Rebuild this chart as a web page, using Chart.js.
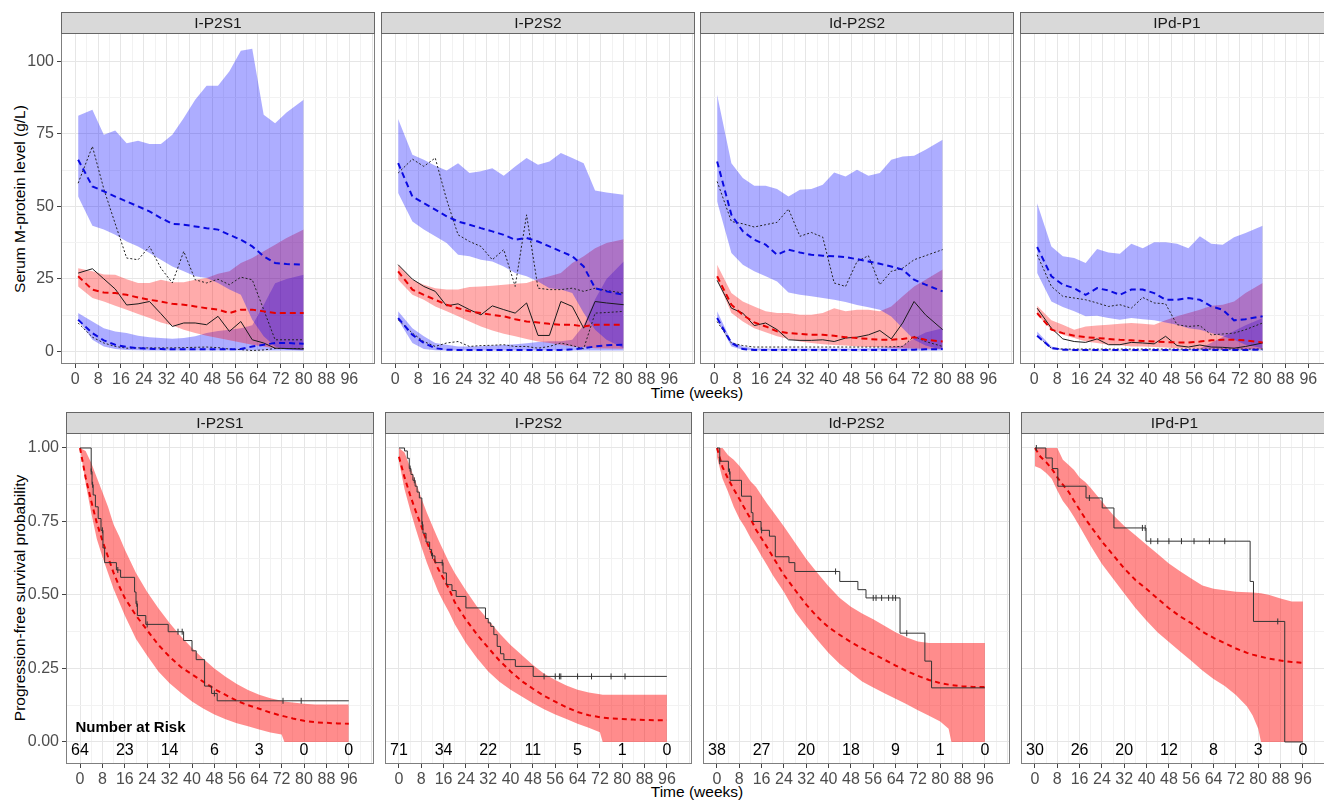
<!DOCTYPE html>
<html>
<head>
<meta charset="utf-8">
<script src="https://cdn.jsdelivr.net/npm/chart.js@4.4.1/dist/chart.umd.min.js"></script>
<style>
    html, body { margin: 0; padding: 0; background: #fff; overflow: hidden; }
    #wrap { position: relative; width: 1324px; height: 800px; overflow: hidden; font-family: "Liberation Sans", Arial, sans-serif; }
    #wrap canvas { position: absolute; }
    .title { position: absolute; font-size: 15.5px; color: #000; white-space: nowrap; }
    .ytitle { transform: translate(-50%, -50%) rotate(-90deg); }
    .xtitle { transform: translate(-50%, -50%); }
</style>
</head>
<body>
<div id="wrap">
    <div class="title ytitle" style="left:20px; top:199px">Serum M-protein level (g/L)</div>
    <div class="title xtitle" style="left:697px; top:393px">Time (weeks)</div>
    <div class="title ytitle" style="left:20px; top:598px">Progression-free survival probability</div>
    <div class="title xtitle" style="left:697px; top:792px">Time (weeks)</div>
</div>
<script>
// Panels (facets)
const panelNames = ['I-P2S1', 'I-P2S2', 'Id-P2S2', 'IPd-P1'];

// ---- Top row: serum M-protein, one array per panel ----
const weeks = [1, 6, 10, 14, 18, 22, 26, 30, 34, 38, 42, 46, 50, 54, 58, 62, 66, 70, 74, 80];

// high group (blue, top)
const hiUpper = [
    [81.3, 83.3, 74.7, 76.2, 71.8, 72.6, 71.5, 71.5, 74.7, 80.5, 86.8, 91.6, 91.6, 96.6, 103.7, 104.4, 81.6, 78.7, 82.4, 86.8],
    [80.1, 67.8, 66.1, 64, 62.4, 64.9, 61.5, 62.1, 63.2, 60.6, 63.8, 66.7, 64.4, 65.5, 68.4, 66.7, 64.9, 55.5, 54.8, 54],
    [88.5, 64.9, 59.8, 57.1, 57.1, 56, 53.4, 55.7, 56, 57.5, 61.7, 60.3, 62.6, 60.6, 61.5, 66.1, 67.2, 67.5, 69.5, 73],
    [51.1, 36.2, 32.8, 32.2, 30.5, 35.3, 34.1, 33.7, 37.1, 35.6, 37.6, 37.6, 37.1, 35.6, 39.7, 37.1, 36.8, 39.4, 40.8, 43.3]
];
const hiLower = [
    [53.4, 43.3, 42, 40.2, 37.9, 36.2, 33.9, 31.6, 29.3, 27.6, 25.9, 25.3, 23.6, 21.3, 19.5, 10.9, 5.2, 1.7, 0.6, 0.3],
    [54.6, 44.8, 42, 39.7, 37.4, 33.3, 32.8, 31.6, 31, 29.3, 27, 25.9, 24.1, 21.8, 21.3, 20.1, 13.2, 7.5, 4, 1.1],
    [51.7, 33.9, 29.9, 27.6, 25.9, 24.1, 20.3, 19.5, 19, 18.4, 17.8, 17, 16, 15.2, 14.4, 12, 8, 4, 2, 0.5],
    [27, 17.2, 15.3, 13.8, 12.1, 12.3, 11.5, 10.9, 11.5, 11.1, 10.7, 10, 9.2, 8, 7.5, 6.3, 5.2, 4, 2.3, 1.1]
];
const hiMedian = [
    [66.1, 56.9, 55.2, 53.4, 51.7, 50, 48.3, 46, 44, 43.7, 43.1, 42.5, 42, 40.2, 38.5, 36.2, 32.8, 30.5, 30.1, 29.9],
    [64.9, 53.4, 51.1, 48.9, 46.6, 44.8, 43.7, 42.5, 41.4, 40.2, 38.5, 39.1, 37.9, 36.2, 34.5, 32.8, 29.3, 21.8, 20.7, 19.5],
    [65.5, 47.1, 41.4, 38.5, 36.8, 33.3, 35.1, 34.1, 33.3, 33, 32.8, 32.5, 31.8, 31, 30.2, 29.3, 28.2, 24.7, 23, 20.7],
    [36, 25.9, 23, 21.8, 19.5, 21.8, 21, 19.5, 21.3, 21.3, 20.1, 17.8, 17.8, 18.4, 17.8, 15.5, 14.4, 10.7, 11.1, 12.1]
];
const hiObserved = [
    [58, 70.7, 56, 44, 32.2, 31.6, 36.2, 28.7, 23.6, 34.5, 24.7, 23.6, 24.9, 23, 25.6, 24.7, 14.4, 4, 4, 4],
    [61.5, 66.3, 63.8, 66.7, 52.3, 40.2, 37.9, 36.2, 31.6, 35.1, 22.4, 47.1, 21.8, 21.3, 21.3, 21.8, 20.7, 21.8, 21, 20.1],
    [58.6, 44.8, 44, 42.9, 43.7, 44.5, 49.1, 39.7, 41, 39.4, 23.6, 22.4, 31, 33, 23, 27.6, 28.7, 31.6, 33, 35.1],
    [33.3, 22.4, 19, 18.4, 17.8, 16.7, 15.5, 16.1, 14.9, 18.6, 16.7, 16.4, 9.2, 8.6, 8.9, 5.7, 6, 6.3, 7.5, 9.8]
];

// middle group (red)
const midUpper = [
    [28.7, 27.6, 26.5, 26.4, 24.9, 23.6, 23.6, 24.7, 23.8, 23.8, 24.7, 25.3, 26.8, 27.6, 30.5, 32.2, 34.5, 36.8, 39.1, 42],
    [29.9, 24.7, 23, 21.8, 21.3, 21.3, 22.2, 22.4, 22.6, 23, 23.3, 23.6, 24.9, 25.9, 27, 30.5, 32.8, 35.6, 37.4, 38.7],
    [29.9, 20.1, 17.2, 15.5, 13.8, 13.2, 13.2, 12.6, 12.6, 13.2, 14.9, 13.8, 14.4, 14.4, 13.8, 15.5, 19, 22.4, 24.7, 28.2],
    [15.7, 10.7, 9.2, 7.5, 8.6, 8.9, 9.2, 9.5, 9.8, 9.5, 9.2, 10.7, 12.1, 13.2, 14.4, 15.7, 16.1, 17.2, 20.1, 23.6]
];
const midLower = [
    [22.4, 18.4, 17.2, 15.7, 14.4, 12.9, 11.5, 10, 8.9, 7.5, 6.3, 5.4, 4.6, 3.8, 3.1, 2.3, 1.7, 1.1, 0.8, 0.6],
    [24.7, 19.5, 17.8, 15.5, 13.8, 12.1, 10.3, 8.6, 7.2, 6.1, 5.2, 4.3, 3.4, 2.9, 2.3, 1.7, 1.4, 1.1, 1, 0.9],
    [24.7, 13.2, 10.3, 8, 6.6, 5.2, 4.3, 3.4, 2.9, 2.5, 2.2, 2, 1.7, 1.5, 1.4, 1.2, 1.1, 1, 0.9, 0.8],
    [12.6, 7.5, 5.7, 4.6, 3.4, 2.9, 2.3, 2.1, 1.7, 1.7, 1.5, 1.3, 1.1, 1, 0.9, 0.9, 0.8, 0.8, 0.8, 0.8]
];
const midMedian = [
    [25.9, 21.3, 20.3, 20.1, 19.5, 18.6, 17.8, 17.2, 16.4, 16.1, 15.5, 14.9, 14.4, 13.2, 14.4, 14.4, 13.8, 13.2, 13.2, 13.2],
    [27.6, 21.3, 19.5, 17.8, 16.1, 14.9, 13.8, 13.2, 12.6, 12.1, 11.1, 10.3, 10, 9.5, 9.2, 9.2, 8.6, 9.2, 9.2, 9.2],
    [25.9, 16.1, 12.6, 10, 8.6, 6.9, 6.3, 6, 5.7, 5.7, 5.4, 4.9, 4.6, 4.3, 4, 4, 4.3, 4.9, 4, 3.4],
    [13.2, 7.5, 6.3, 5.4, 4.9, 4.6, 4.3, 4, 3.8, 3.6, 3.4, 3.2, 3.1, 3.1, 3.4, 3.8, 4, 4, 3.8, 3.1]
];
const midObserved = [
    [27, 28.5, 25, 21.5, 16, 16.4, 17.2, 13, 8.6, 9.8, 9.8, 9.2, 12.1, 6.9, 10.3, 4, 2.9, 1.1, 1, 0.8],
    [29.9, 24.9, 22.4, 20.7, 15.7, 16.4, 14.4, 12.6, 15.7, 14.4, 13.2, 16.7, 5.5, 5.5, 17.2, 15.5, 8, 17.2, 16.7, 16.1],
    [24.5, 14.9, 13.2, 8.9, 9.8, 7.5, 4, 3.8, 3.8, 4, 3.4, 4.6, 4.9, 5.7, 7.2, 4.3, 9.8, 17.2, 12.6, 7.5],
    [14.9, 8, 4.3, 3.4, 3.1, 4.3, 2.3, 2.3, 3.1, 2.9, 2.6, 5.2, 2, 1.5, 2.2, 1.5, 1.4, 1.1, 1.7, 2.9]
];

// low group (blue, bottom)
const loUpper = [
    [13.2, 10.3, 8, 6.9, 6.3, 5.4, 4.9, 4.6, 4.4, 4.6, 5.2, 6.3, 7, 7.5, 8, 9, 16, 23.5, 25, 26.4],
    [13.8, 8, 5.2, 2.9, 2.3, 1.7, 1.7, 1.8, 2, 2.2, 2.5, 2.8, 3.2, 3.5, 3.5, 4, 9, 18, 25, 31],
    [13.8, 3.4, 1.7, 1.1, 1, 1, 1, 1, 1, 1, 1, 1, 1, 1.1, 1.2, 1.5, 2, 4.5, 6.5, 8],
    [6.9, 1.7, 0.8, 0.7, 0.6, 0.6, 0.6, 0.6, 0.6, 0.6, 0.6, 0.6, 0.7, 0.8, 1, 3, 5, 7, 9, 11.5]
];
const loLower = [
    [10.9, 4, 1.7, 0.8, 0.5, 0.4, 0.3, 0.3, 0.3, 0.3, 0.3, 0.3, 0.3, 0.3, 0.3, 0.3, 0.3, 0.3, 0.3, 0.3],
    [10.9, 2.9, 0.8, 0.4, 0.3, 0.3, 0.3, 0.3, 0.3, 0.3, 0.3, 0.3, 0.3, 0.3, 0.3, 0.3, 0.3, 0.3, 0.3, 0.3],
    [10.9, 1.7, 0.6, 0.3, 0.3, 0.3, 0.3, 0.3, 0.3, 0.3, 0.3, 0.3, 0.3, 0.3, 0.3, 0.3, 0.3, 0.3, 0.3, 0.3],
    [5.2, 0.8, 0.4, 0.3, 0.3, 0.3, 0.3, 0.3, 0.3, 0.3, 0.3, 0.3, 0.3, 0.3, 0.3, 0.3, 0.3, 0.3, 0.3, 0.3]
];
const loMedian = [
    [10.9, 6.3, 3.8, 2.3, 1.5, 1.1, 0.9, 0.8, 0.7, 0.7, 0.7, 0.7, 0.7, 0.7, 0.8, 1.7, 2.3, 2.9, 2.9, 2.6],
    [11.5, 5.7, 2.9, 1.1, 0.6, 0.5, 0.5, 0.5, 0.5, 0.5, 0.5, 0.5, 0.5, 0.5, 0.5, 0.7, 1.1, 1.7, 2.1, 2.3],
    [11.5, 2.9, 0.8, 0.5, 0.5, 0.5, 0.5, 0.5, 0.5, 0.5, 0.5, 0.5, 0.5, 0.5, 0.5, 0.5, 0.5, 0.6, 0.7, 0.8],
    [5.4, 1.1, 0.6, 0.5, 0.5, 0.5, 0.5, 0.5, 0.5, 0.5, 0.5, 0.5, 0.5, 0.5, 0.5, 0.5, 0.5, 0.5, 0.5, 0.6]
];
const loObserved = [
    [9.8, 4.9, 2.9, 1.7, 1.1, 1.2, 1.2, 1.2, 1.2, 1.3, 1.4, 1.5, 1.3, 0.8, 0.6, 0.3, 0.5, 1, 1, 1],
    [10.9, 6.3, 3.4, 1.7, 2.9, 3.4, 1.7, 2, 2.1, 2.3, 1.7, 1.7, 1.1, 1.7, 2.9, 2, 0.9, 13.2, 13.4, 13.8],
    [10.3, 2.9, 2, 1.5, 1.5, 1.5, 1.5, 1.5, 1.5, 1.5, 1.5, 1.5, 1.5, 1.5, 1.5, 1.6, 1.7, 5.2, 3.4, 1.7],
    [5.2, 1.1, 0.8, 0.8, 0.8, 0.8, 0.8, 0.8, 0.8, 0.8, 0.8, 0.8, 0.8, 0.8, 0.8, 0.8, 0.8, 0.8, 0.8, 0.8]
];

// ---- Bottom row: progression-free survival ----
const survWeeks = [
    [0, 2, 4, 6, 8, 10, 12, 14, 16, 18, 20, 24, 28, 32, 36, 40, 44, 48, 52, 56, 60, 64, 68, 72, 73, 76, 80, 84, 88, 92, 96],
    [0, 2, 4, 6, 8, 10, 12, 14, 16, 18, 20, 24, 28, 32, 36, 40, 44, 48, 52, 56, 60, 64, 68, 72, 73, 76, 80, 84, 88, 92, 96],
    [0, 2, 4, 6, 8, 10, 12, 14, 16, 18, 20, 24, 28, 32, 36, 40, 44, 48, 52, 56, 60, 64, 68, 72, 76, 80, 83, 84, 88, 92, 96],
    [0, 2, 4, 6, 8, 10, 12, 14, 16, 18, 20, 24, 28, 32, 36, 40, 44, 48, 52, 56, 60, 64, 68, 72, 76, 78, 80, 81, 84, 88, 92, 96]
];
const survMedian = [
    [1, .90, .82, .745, .685, .63, .575, .53, .49, .46, .43, .38, .33, .29, .255, .23, .205, .18, .16, .14, .125, .113, .10, .089, .087, .08, .072, .067, .065, .063, .062],
    [.97, .90, .84, .785, .735, .68, .635, .59, .555, .52, .475, .416, .365, .32, .277, .24, .207, .181, .157, .137, .118, .102, .091, .084, .083, .08, .078, .076, .075, .074, .074],
    [1, .935, .895, .86, .827, .793, .76, .722, .692, .662, .63, .568, .517, .467, .425, .39, .364, .34, .318, .299, .28, .26, .241, .225, .211, .2, .195, .193, .189, .187, .187],
    [1, .97, .952, .93, .9, .875, .852, .82, .79, .76, .733, .682, .636, .59, .551, .52, .487, .455, .427, .404, .375, .354, .336, .318, .303, .297, .292, .29, .283, .277, .272, .269]
];
const survUpper = [
    [1, .99, .95, .90, .85, .80, .74, .70, .655, .615, .575, .51, .455, .405, .36, .32, .283, .25, .222, .197, .177, .161, .149, .14, .138, .134, .13, .127, .127, .127, .127],
    [1, .985, .935, .885, .83, .78, .735, .69, .65, .61, .575, .515, .46, .415, .37, .33, .296, .262, .232, .211, .192, .178, .168, .162, .161, .161, .161, .161, .161, .161, .161],
    [1, 1, .975, .96, .94, .915, .887, .867, .838, .81, .785, .733, .678, .622, .575, .53, .49, .46, .437, .417, .395, .373, .355, .342, .337, .337, .337, .337, .337, .337, .337],
    [1, 1, 1, 1, 1, .96, .943, .925, .9, .884, .864, .818, .772, .735, .703, .671, .639, .607, .581, .556, .532, .521, .516, .511, .509, .508, .507, .506, .5, .488, .478, .478]
];
const survLower = [
    [1, .88, .78, .69, .63, .575, .52, .475, .43, .39, .35, .293, .24, .2, .167, .138, .114, .093, .077, .064, .053, .042, .032, .025, 0, 0, 0, 0, 0, 0, 0],
    [.955, .86, .79, .725, .665, .61, .56, .513, .475, .44, .40, .337, .285, .24, .205, .178, .155, .132, .111, .093, .078, .062, .048, .033, 0, 0, 0, 0, 0, 0, 0],
    [.97, .895, .85, .80, .76, .73, .695, .665, .632, .6, .567, .51, .443, .393, .347, .303, .265, .235, .206, .185, .166, .147, .128, .108, .089, .07, .045, 0, 0, 0, 0],
    [.938, .93, .915, .895, .855, .82, .795, .765, .733, .70, .667, .605, .555, .505, .456, .412, .372, .34, .308, .276, .243, .214, .19, .16, .121, .09, .045, 0, 0, 0, 0, 0]
];

// Kaplan-Meier (observed) step times and survival
const kmTimes = [
    [0, 4, 4.3, 4.7, 5.5, 6.5, 7.5, 8.2, 8.8, 13, 14.5, 19.5, 20, 20.5, 23.5, 31.5, 37, 40, 41.5, 44.5, 47, 49, 96],
    [0, 2, 3, 3.7, 4.3, 5, 5.8, 6.5, 7.3, 8.2, 8.6, 9.7, 11, 11.7, 12.9, 15.8, 17, 19, 20.5, 24, 31, 32, 32.9, 34, 35.2, 36.4, 37.6, 41.7, 48.1, 96],
    [0, 1, 4.1, 4.7, 8.8, 12.3, 12.9, 15.8, 18.8, 20.9, 25.8, 27.9, 44, 50.5, 53.4, 65.6, 74.5, 76.9, 96],
    [0, 3.9, 6.2, 8.2, 18.3, 24.1, 28.3, 39.8, 77.1, 78.3, 89.5, 96]
];
const kmSurv = [
    [1, .92, .875, .84, .80, .76, .72, .66, .61, .585, .56, .51, .47, .43, .40, .375, .345, .31, .28, .19, .165, .14, .14],
    [1, .99, .965, .93, .91, .89, .87, .85, .83, .74, .71, .68, .655, .633, .61, .575, .535, .515, .495, .456, .42, .405, .393, .365, .325, .30, .28, .257, .223, .223],
    [1, .955, .92, .89, .836, .78, .75, .72, .70, .63, .61, .58, .546, .518, .49, .37, .275, .184, .184],
    [1, .966, .93, .87, .83, .796, .728, .683, .546, .41, 0, 0]
];
const censorTimes = [
    [4, 4.5, 8, 13.5, 20.3, 24, 35, 36.5, 48, 72.5, 79],
    [4, 5.5, 8.4, 12, 15.5, 52, 56, 57.5, 58, 64, 69, 76, 81],
    [1, 4.5, 16, 42.5, 56, 57, 59, 61.5, 63, 64, 68],
    [0.5, 19.5, 38.5, 39.5, 41.5, 44, 48, 52.5, 57, 62.5, 68, 87]
];

// Number at risk
const riskWeeks = [0, 16, 32, 48, 64, 80, 96];
const atRisk = [
    [64, 23, 14, 6, 3, 0, 0],
    [71, 34, 22, 11, 5, 1, 0],
    [38, 27, 20, 18, 9, 1, 0],
    [30, 26, 20, 12, 8, 3, 0]
];

// Axis breaks
const xGrid = [0, 4, 8, 12, 16, 20, 24, 28, 32, 36, 40, 44, 48, 52, 56, 60, 64, 68, 72, 76, 80, 84, 88, 92, 96, 100, 104];
const mproteinGrid = [0, 12.5, 25, 37.5, 50, 62.5, 75, 87.5, 100];
const pfsGrid = [0, 0.125, 0.25, 0.375, 0.5, 0.625, 0.75, 0.875, 1];

// ---- layout & styles ----
const FONT = '"Liberation Sans", Arial, sans-serif';
Chart.defaults.font.family = FONT;
const STRIP_H = 21;
const X_AXIS_H = 30;
const topRow = { stripTop: 12, areaBottom: 364, lefts: [61, 381, 700, 1020], width: 314 };
const botRow = { stripTop: 412, areaBottom: 764, lefts: [66, 384, 702, 1020], width: 312 };

const BLUE_FILL = 'rgba(0, 0, 255, 0.32)';
const RED_FILL = 'rgba(255, 0, 0, 0.33)';
const RED_FILL_PFS = 'rgba(255, 0, 0, 0.45)';
const BLUE = '#0a0ae0';
const RED = '#e80000';
const NONE = 'rgba(0,0,0,0)';

function pts(xs, ys) {
    return xs.map((x, k) => ({ x: x, y: ys[k] }));
}

function kmAt(ts, ss, t) {
    let s = ss[0];
    for (let k = 0; k < ts.length; k++) {
        if (ts[k] <= t) s = ss[k];
    }
    return s;
}

// strip header + panel border
const framePlugin = {
    id: 'frame',
    afterDraw(chart, args, opts) {
        const { ctx, chartArea: a } = chart;
        ctx.save();
        ctx.strokeStyle = '#7f7f7f';
        ctx.lineWidth = 1;
        ctx.strokeRect(a.left + 0.5, a.top + 0.5, a.right - a.left - 1, a.bottom - a.top - 1);
        ctx.fillStyle = '#d9d9d9';
        ctx.fillRect(a.left, a.top - STRIP_H, a.right - a.left, STRIP_H);
        ctx.strokeStyle = '#666';
        ctx.strokeRect(a.left + 0.5, a.top - STRIP_H + 0.5, a.right - a.left - 1, STRIP_H);
        ctx.fillStyle = '#1a1a1a';
        ctx.font = '15.5px ' + FONT;
        ctx.textAlign = 'center';
        ctx.textBaseline = 'middle';
        ctx.fillText(opts.label, (a.left + a.right) / 2, a.top - STRIP_H / 2 + 1);
        ctx.restore();
    }
};

// number at risk row
const riskPlugin = {
    id: 'risk',
    afterDatasetsDraw(chart, args, opts) {
        if (!opts.counts) return;
        const { ctx, scales } = chart;
        ctx.save();
        ctx.fillStyle = '#000';
        ctx.textBaseline = 'middle';
        ctx.textAlign = 'center';
        ctx.font = '16px ' + FONT;
        opts.counts.forEach((n, k) => {
            ctx.fillText(String(n), scales.x.getPixelForValue(riskWeeks[k]), scales.y.getPixelForValue(-0.028));
        });
        if (opts.showTitle) {
            ctx.textAlign = 'left';
            ctx.font = 'bold 15px ' + FONT;
            ctx.fillText('Number at Risk', scales.x.getPixelForValue(-1.6), scales.y.getPixelForValue(0.048));
        }
        ctx.restore();
    }
};

function axisX() {
    const isMajor = v => v % 8 === 0;
    return {
        type: 'linear', min: -5, max: 105,
        afterBuildTicks: s => { s.ticks = xGrid.map(v => ({ value: v })); },
        afterFit: s => { s.height = X_AXIS_H; },
        border: { display: false },
        grid: {
            color: c => isMajor(c.tick.value) ? '#e6e6e6' : '#f2f2f2',
            lineWidth: 1,
            tickLength: 4,
            tickColor: c => (isMajor(c.tick.value) && c.tick.value <= 96) ? '#444' : NONE
        },
        ticks: {
            autoSkip: false, maxRotation: 0, minRotation: 0, padding: 2,
            color: '#4d4d4d', font: { size: 16 },
            callback: v => (v % 8 === 0 && v <= 96) ? String(v) : ''
        }
    };
}

function axisY(grid, min, max, isMajor, fmt, showLabels, width) {
    return {
        type: 'linear', min: min, max: max,
        afterBuildTicks: s => { s.ticks = grid.map(v => ({ value: v })); },
        afterFit: s => { s.width = width; },
        border: { display: false },
        grid: {
            color: c => isMajor(c.tick.value) ? '#e6e6e6' : '#f2f2f2',
            lineWidth: 1,
            drawTicks: showLabels,
            tickLength: 4,
            tickColor: c => isMajor(c.tick.value) ? '#444' : NONE
        },
        ticks: {
            display: showLabels, autoSkip: false, padding: 3,
            color: '#4d4d4d', font: { size: 16 },
            callback: v => isMajor(v) ? fmt(v) : ''
        }
    };
}

function addCanvas(left, top, w, h) {
    const c = document.createElement('canvas');
    c.width = w;
    c.height = h;
    c.style.left = left + 'px';
    c.style.top = top + 'px';
    c.style.width = w + 'px';
    c.style.height = h + 'px';
    document.getElementById('wrap').appendChild(c);
    return c;
}

function line(data, color, width, dash) {
    return { data: data, borderColor: color, borderWidth: width, borderDash: dash, pointRadius: 0, fill: false, tension: 0, order: 0 };
}

function ribbonTop(data, fillColor) {
    return { data: data, borderColor: NONE, borderWidth: 0, backgroundColor: fillColor, pointRadius: 0, fill: '+1', tension: 0, order: 1 };
}

function ribbonBottom(data) {
    return { data: data, borderColor: NONE, borderWidth: 0, pointRadius: 0, fill: false, tension: 0, order: 1 };
}

function drawMprotein(i) {
    const yw = i === 0 ? topRow.lefts[0] : 4;
    const left = topRow.lefts[i] - yw;
    const w = yw + topRow.width + 1;
    const h = topRow.areaBottom - topRow.stripTop + X_AXIS_H;
    const canvas = addCanvas(left, topRow.stripTop, w, h);
    const datasets = [
        line(pts(weeks, hiMedian[i]), BLUE, 2, [6, 4]),
        line(pts(weeks, midMedian[i]), RED, 2, [6, 4]),
        line(pts(weeks, loMedian[i]), BLUE, 2, [6, 4]),
        line(pts(weeks, hiObserved[i]), '#222', 1, [2, 2]),
        line(pts(weeks, midObserved[i]), '#1a1a1a', 1, []),
        line(pts(weeks, loObserved[i]), '#222', 1, [2, 2]),
        ribbonTop(pts(weeks, hiUpper[i]), BLUE_FILL),
        ribbonBottom(pts(weeks, hiLower[i])),
        ribbonTop(pts(weeks, midUpper[i]), RED_FILL),
        ribbonBottom(pts(weeks, midLower[i])),
        ribbonTop(pts(weeks, loUpper[i]), BLUE_FILL),
        ribbonBottom(pts(weeks, loLower[i]))
    ];
    new Chart(canvas, {
        type: 'line',
        data: { datasets: datasets },
        options: {
            responsive: false, animation: false, devicePixelRatio: 1,
            layout: { padding: { top: STRIP_H, right: 1, left: 0, bottom: 0 } },
            plugins: { legend: { display: false }, tooltip: { enabled: false }, frame: { label: panelNames[i] }, risk: {} },
            scales: {
                x: axisX(),
                y: axisY(mproteinGrid, -4.35, 109.8, v => v % 25 === 0, v => String(v), i === 0, yw)
            }
        },
        plugins: [framePlugin, riskPlugin]
    });
}

function drawPfs(i) {
    const yw = i === 0 ? botRow.lefts[0] : 4;
    const left = botRow.lefts[i] - yw;
    const w = yw + botRow.width + 1;
    const h = botRow.areaBottom - botRow.stripTop + X_AXIS_H;
    const canvas = addCanvas(left, botRow.stripTop, w, h);
    const censors = censorTimes[i].map(t => ({ x: t, y: kmAt(kmTimes[i], kmSurv[i], t) }));
    const datasets = [
        { type: 'scatter', data: censors, showLine: false, pointStyle: 'line', rotation: 90, pointRadius: 3,
          borderColor: '#333', borderWidth: 1, order: 0 },
        { data: pts(kmTimes[i], kmSurv[i]), stepped: 'before', borderColor: '#333', borderWidth: 1, pointRadius: 0, fill: false, order: 0 },
        line(pts(survWeeks[i], survMedian[i]), RED, 2, [5, 4]),
        ribbonTop(pts(survWeeks[i], survUpper[i]), RED_FILL_PFS),
        ribbonBottom(pts(survWeeks[i], survLower[i]))
    ];
    const isMajor = v => Math.abs(v * 4 - Math.round(v * 4)) < 1e-9;
    new Chart(canvas, {
        type: 'line',
        data: { datasets: datasets },
        options: {
            responsive: false, animation: false, devicePixelRatio: 1,
            layout: { padding: { top: STRIP_H, right: 1, left: 0, bottom: 0 } },
            plugins: {
                legend: { display: false }, tooltip: { enabled: false },
                frame: { label: panelNames[i] },
                risk: { counts: atRisk[i], showTitle: i === 0 }
            },
            scales: {
                x: axisX(),
                y: axisY(pfsGrid, -0.075, 1.051, isMajor, v => v.toFixed(2), i === 0, yw)
            }
        },
        plugins: [framePlugin, riskPlugin]
    });
}

for (let i = 0; i < panelNames.length; i++) {
    drawMprotein(i);
    drawPfs(i);
}
</script>
</body>
</html>
